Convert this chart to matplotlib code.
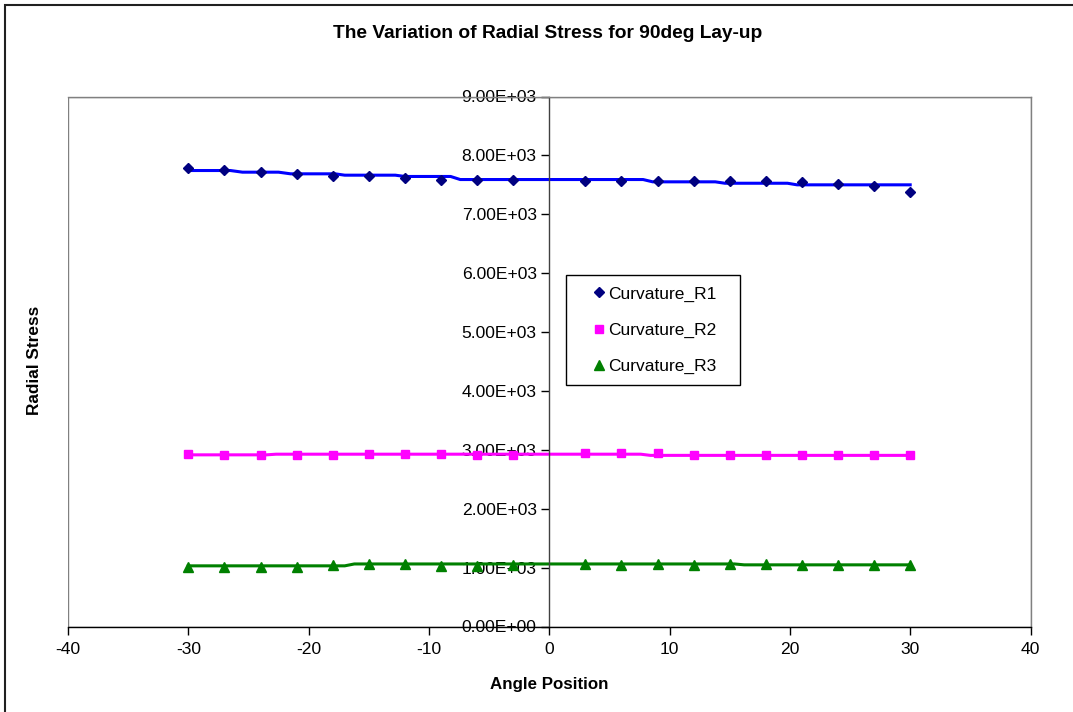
import matplotlib
matplotlib.use("Agg")
import matplotlib.pyplot as plt
from matplotlib.patches import Rectangle
from matplotlib.ticker import FuncFormatter, MultipleLocator

plt.rcParams['font.family'] = ['Liberation Sans', 'DejaVu Sans']
plt.rcParams['axes.unicode_minus'] = False

# Angle positions of the computed points (no point at 0 deg)
angles = [-30, -27, -24, -21, -18, -15, -12, -9, -6, -3,
          3, 6, 9, 12, 15, 18, 21, 24, 27, 30]

# Radial stress at each angle for the three curvatures
r1 = [7790, 7760, 7726, 7687, 7658, 7658, 7612, 7585, 7585, 7585,
      7562, 7562, 7562, 7562, 7573, 7562, 7545, 7522, 7483, 7375]
r2 = [2932, 2909, 2909, 2915, 2915, 2932, 2932, 2932, 2904, 2904,
      2938, 2938, 2943, 2909, 2909, 2909, 2909, 2909, 2909, 2909]
r3 = [1002, 1013, 1013, 1013, 1036, 1053, 1053, 1024, 1030, 1036,
      1064, 1036, 1064, 1036, 1064, 1053, 1036, 1036, 1036, 1036]

# Smoothed curves drawn through each series
r1_fit_x = [-30, -26.5, -25.5, -22.5, -21.5, -17.8, -17.0, -12.8, -12.0,
            -8.2, -7.4, 7.8, 8.6, 13.8, 14.6, 19.8, 20.6, 30]
r1_fit_y = [7743, 7743, 7715, 7715, 7687, 7687, 7664, 7664, 7642,
            7642, 7590, 7590, 7551, 7551, 7527, 7527, 7500, 7500]
r2_fit_x = [-30, -23.5, -22.7, 7.6, 8.4, 30]
r2_fit_y = [2915, 2915, 2926, 2926, 2906, 2906]
r3_fit_x = [-30, -17.0, -16.2, 15.4, 16.2, 30]
r3_fit_y = [1030, 1030, 1062, 1062, 1047, 1047]

x_ticks = [-40, -30, -20, -10, 0, 10, 20, 30, 40]

fig = plt.figure(figsize=(10.73, 7.12), dpi=100)
ax = fig.add_axes([68 / 1073, 1 - 626.5 / 712, 962.5 / 1073, 530 / 712])

# Outer chart border (left and top edges visible)
fig.patches.append(Rectangle((5 / 1073, -0.1), 1.5, 1.1 - 5 / 712,
                             transform=fig.transFigure, fill=False,
                             edgecolor='#202020', linewidth=1.5))

ax.plot(r1_fit_x, r1_fit_y, color='#0000FF', lw=2.2, zorder=2)
ax.plot(r2_fit_x, r2_fit_y, color='#FF00FF', lw=2.2, zorder=2)
ax.plot(r3_fit_x, r3_fit_y, color='#008000', lw=2.2, zorder=2)

ax.plot(angles, r1, linestyle='none', marker='D', ms=5.5, color='#000080',
        label='Curvature_R1', zorder=3)
ax.plot(angles, r2, linestyle='none', marker='s', ms=5.5, color='#FF00FF',
        label='Curvature_R2', zorder=3)
ax.plot(angles, r3, linestyle='none', marker='^', ms=6.5, color='#008000',
        label='Curvature_R3', zorder=3)

ax.set_xlim(-40, 40)
ax.set_ylim(0, 9000)
ax.set_xticks(x_ticks)
ax.yaxis.set_major_locator(MultipleLocator(1000))
ax.yaxis.set_major_formatter(FuncFormatter(lambda v, p: f"{v:.2E}"))

# Plot-area frame in grey, axis lines in black
ax.spines['left'].set_position(('data', 0))
ax.spines['left'].set_color('#404040')
ax.spines['bottom'].set_color('black')
ax.spines['top'].set_color('#808080')
ax.spines['right'].set_color('#808080')
for s in ax.spines.values():
    s.set_linewidth(1.0)
ax.add_patch(Rectangle((0, 0), 1, 1, transform=ax.transAxes, fill=False,
                       edgecolor='#808080', linewidth=1.0, zorder=0.5))

ax.tick_params(axis='both', direction='out', length=6, width=1,
               labelsize=12.6, color='black')
ax.tick_params(axis='y', pad=3)
ax.tick_params(axis='x', pad=5)

fig.text(548 / 1073, 1 - 33 / 712, 'The Variation of Radial Stress for 90deg Lay-up',
         ha='center', va='center', fontsize=13.8, fontweight='bold')
fig.text(549 / 1073, 1 - 685 / 712, 'Angle Position',
         ha='center', va='center', fontsize=12.2, fontweight='bold')
fig.text(35 / 1073, 1 - 360 / 712, 'Radial Stress', rotation=90,
         ha='center', va='center', fontsize=12.4, fontweight='bold')

# Legend entries, with a box drawn around them
leg_left, leg_right = 566 - 68, 740 - 68
leg_top, leg_bottom = 626.5 - 275, 626.5 - 385
ax.add_patch(Rectangle((leg_left / 962.5, leg_bottom / 530),
                       (leg_right - leg_left) / 962.5, (leg_top - leg_bottom) / 530,
                       transform=ax.transAxes, facecolor='white',
                       edgecolor='black', linewidth=1.0, zorder=4))
leg = ax.legend(loc='upper left', bbox_to_anchor=(leg_left / 962.5, (leg_top - 1) / 530),
                fontsize=12.5, frameon=False,
                handlelength=2.6, handletextpad=-0.75, labelspacing=1.2,
                borderpad=0.6, borderaxespad=0)
leg.set_zorder(5)

fig.savefig('out.png', dpi=100)
